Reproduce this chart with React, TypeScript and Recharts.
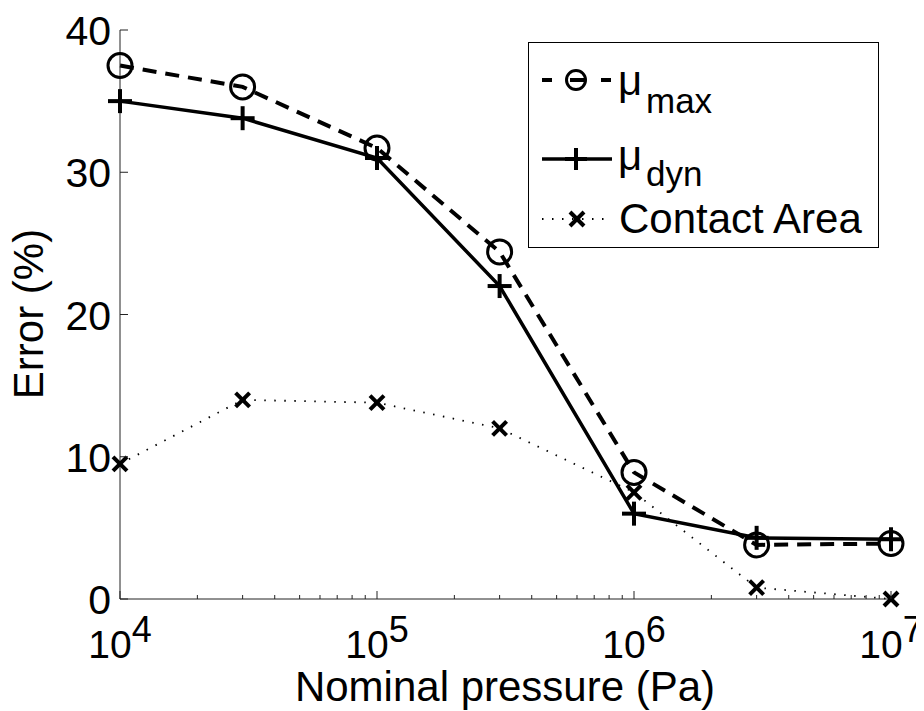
import { LineChart, Line, XAxis, YAxis } from 'recharts';

// nominal pressure (Pa) and error (%) per series
const pressure = [1e4, 3e4, 1e5, 3e5, 1e6, 3e6, 1e7];
const muMax = [37.5, 36.0, 31.7, 24.4, 8.9, 3.8, 3.9];
const muDyn = [35.0, 33.8, 31.0, 22.0, 6.0, 4.3, 4.2];
const contactArea = [9.5, 14.0, 13.8, 12.0, 7.5, 0.8, 0.0];

const xTicks = [
  1e4, 2e4, 3e4, 4e4, 5e4, 6e4, 7e4, 8e4, 9e4,
  1e5, 2e5, 3e5, 4e5, 5e5, 6e5, 7e5, 8e5, 9e5,
  1e6, 2e6, 3e6, 4e6, 5e6, 6e6, 7e6, 8e6, 9e6,
  1e7,
];
const yTicks = [0, 10, 20, 30, 40];

const FONT = '"Liberation Sans", Arial, Helvetica, sans-serif';
const AXIS = '#222';

const data = pressure.map((p, i) => ({
  p,
  muMax: muMax[i],
  muDyn: muDyn[i],
  contact: contactArea[i],
}));

const Circle = ({ cx, cy, r = 12 }: any) => (
  <circle cx={cx} cy={cy} r={r} fill="none" stroke="#000" strokeWidth={3} />
);

const Plus = ({ cx, cy, s = 12 }: any) => (
  <g stroke="#000" strokeWidth={4}>
    <line x1={cx - s} x2={cx + s} y1={cy} y2={cy} />
    <line x1={cx} x2={cx} y1={cy - s} y2={cy + s} />
  </g>
);

const Cross = ({ cx, cy, s = 7 }: any) => (
  <g stroke="#000" strokeWidth={4}>
    <line x1={cx - s} x2={cx + s} y1={cy - s} y2={cy + s} />
    <line x1={cx - s} x2={cx + s} y1={cy + s} y2={cy - s} />
  </g>
);

function XTick({ x, y, payload }: any) {
  const v = payload.value;
  const exp = Math.round(Math.log10(v));
  const major = Math.abs(v - Math.pow(10, exp)) < v * 1e-6;
  return (
    <g>
      <line x1={x} x2={x} y1={y} y2={y - (major ? 8 : 4)} stroke={AXIS} strokeWidth={1} />
      {major && (
        <text x={x} y={y + 59} textAnchor="middle" fontSize={39} fontFamily={FONT} fill="#000">
          10
          <tspan dy={-16} fontSize={36}>{exp}</tspan>
        </text>
      )}
    </g>
  );
}

function YTick({ x, y, payload }: any) {
  return (
    <g>
      <line x1={x} x2={x + 8} y1={y} y2={y} stroke={AXIS} strokeWidth={1} />
      <text x={x - 9} y={y + 15} textAnchor="end" fontSize={41} fontFamily={FONT} fill="#000">
        {payload.value}
      </text>
    </g>
  );
}

function LegendBox() {
  return (
    <div
      style={{
        position: 'absolute',
        left: 520,
        top: 34,
        width: 351,
        height: 206,
        boxSizing: 'border-box',
        border: '1.5px solid #000',
        background: '#fff',
      }}
    >
      <svg width={348} height={203} style={{ position: 'absolute', left: -1.5, top: -1.5 }}>
        {/* mu max */}
        <g stroke="#000" strokeWidth={4}>
          <line x1={14} x2={24} y1={38} y2={38} />
          <line x1={42} x2={56} y1={38} y2={38} />
          <line x1={73} x2={83} y1={38} y2={38} />
        </g>
        <Circle cx={48} cy={38} r={9.5} />
        <text x={90} y={53} fontSize={42} fontFamily={FONT}>
          μ<tspan x={118} y={71} fontSize={35}>max</tspan>
        </text>
        {/* mu dyn */}
        <line x1={14} x2={84} y1={117} y2={117} stroke="#000" strokeWidth={3.5} />
        <Plus cx={48} cy={117} s={11} />
        <text x={90} y={128} fontSize={42} fontFamily={FONT}>
          μ<tspan x={118} y={144} fontSize={35}>dyn</tspan>
        </text>
        {/* contact area */}
        <line x1={14} x2={84} y1={177} y2={177} stroke="#000" strokeWidth={1.8} strokeDasharray="1.5 8.5" />
        <Cross cx={49} cy={177} s={7} />
        <text x={91} y={191} fontSize={42} fontFamily={FONT}>
          Contact Area
        </text>
      </svg>
    </div>
  );
}

export default function App() {
  return (
    <div style={{ position: 'relative', width: 916, height: 703 }}>
      <LineChart
        width={916}
        height={703}
        data={data}
        margin={{ top: 22, right: 33, bottom: 12, left: 0 }}
        style={{ overflow: 'visible' }}
      >
        <XAxis
          dataKey="p"
          type="number"
          scale="log"
          domain={[1e4, 1e7]}
          ticks={xTicks}
          interval={0}
          height={100}
          tickSize={0}
          tickMargin={0}
          tickLine={false}
          axisLine={{ stroke: AXIS, strokeWidth: 1 }}
          tick={<XTick />}
        />
        <YAxis
          type="number"
          domain={[0, 40]}
          ticks={yTicks}
          interval={0}
          width={112}
          tickSize={0}
          tickMargin={0}
          tickLine={false}
          axisLine={{ stroke: AXIS, strokeWidth: 1 }}
          tick={<YTick />}
        />
        <Line
          dataKey="muMax"
          type="linear"
          stroke="#000"
          strokeWidth={4}
          strokeDasharray="14 9"
          dot={(p: any) => <Circle key={`c-${p.index}`} cx={p.cx} cy={p.cy} />}
          activeDot={false}
          isAnimationActive={false}
        />
        <Line
          dataKey="muDyn"
          type="linear"
          stroke="#000"
          strokeWidth={3.5}
          dot={(p: any) => <Plus key={`p-${p.index}`} cx={p.cx} cy={p.cy} />}
          activeDot={false}
          isAnimationActive={false}
        />
        <Line
          dataKey="contact"
          type="linear"
          stroke="#000"
          strokeWidth={1.8}
          strokeDasharray="1.5 8.5"
          dot={(p: any) => <Cross key={`x-${p.index}`} cx={p.cx} cy={p.cy} />}
          activeDot={false}
          isAnimationActive={false}
        />
        <text x={497} y={693} textAnchor="middle" fontSize={42} fontFamily={FONT} fill="#000">
          Nominal pressure (Pa)
        </text>
        <text
          x={35}
          y={306}
          textAnchor="middle"
          fontSize={42}
          fontFamily={FONT}
          fill="#000"
          transform="rotate(-90 35 306)"
        >
          Error (%)
        </text>
      </LineChart>
      <LegendBox />
    </div>
  );
}
